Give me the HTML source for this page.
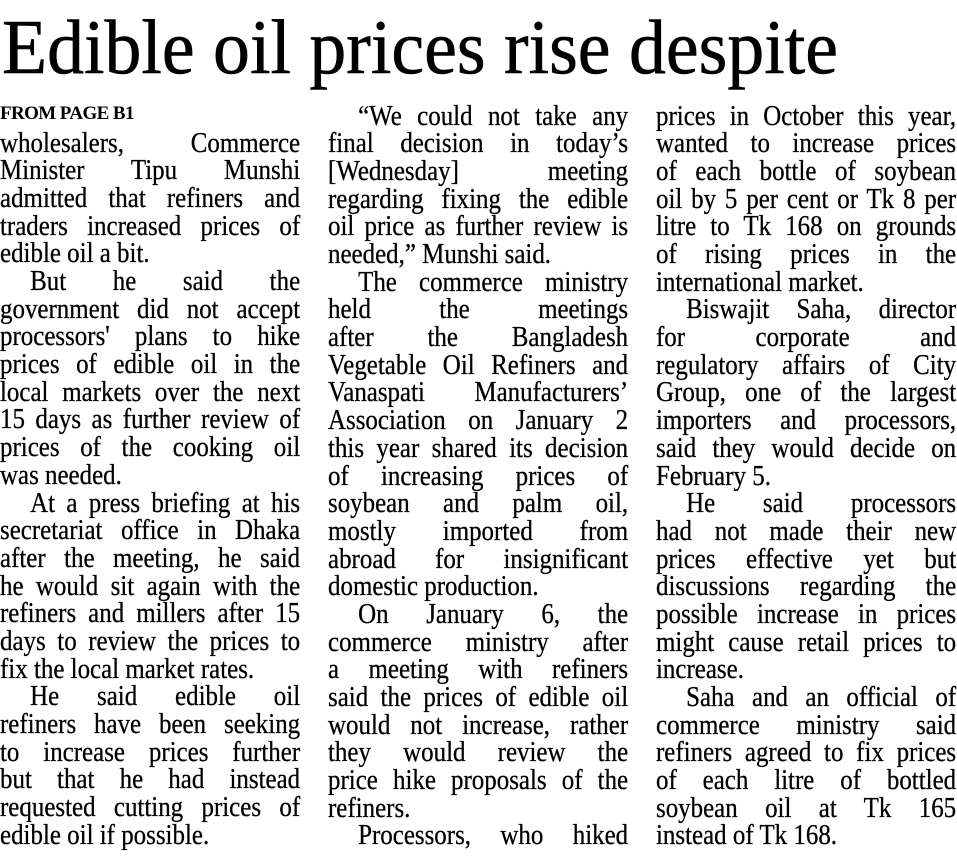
<!DOCTYPE html>
<html><head><meta charset="utf-8"><style>
html,body{margin:0;padding:0;background:#fff;}
body{width:957px;height:856px;position:relative;overflow:hidden;color:#000;font-family:"Liberation Serif",serif;}
.col{position:absolute;width:349px;transform:scaleX(0.86);transform-origin:0 0;font-size:29px;-webkit-text-stroke:0.3px #000;}
.col div{height:27.7px;line-height:27.7px;white-space:nowrap;text-align:justify;text-align-last:justify;}
.col div.e{text-align:left;text-align-last:left;}
.col div.i{padding-left:35px;}
#c1{left:0;top:129.6px;}
#c2{left:328px;top:102.6px;}
#c3{left:656px;top:102.6px;}
#fp{position:absolute;left:0;top:103px;font-size:19px;font-weight:bold;letter-spacing:-0.6px;}
</style></head><body>
<svg width="957" height="100" style="position:absolute;left:0;top:0">
<text x="2" y="73" font-family="Liberation Serif, serif" font-size="77" fill="#000" stroke="#000" stroke-width="0.6" textLength="836" lengthAdjust="spacingAndGlyphs">Edible oil prices rise despite</text>
</svg>
<div id="fp">FROM PAGE B1</div>
<div class="col" id="c1">
<div>wholesalers, Commerce</div>
<div>Minister Tipu Munshi</div>
<div>admitted that refiners and</div>
<div>traders increased prices of</div>
<div class="e">edible oil a bit.</div>
<div class="i">But he said the</div>
<div>government did not accept</div>
<div>processors' plans to hike</div>
<div>prices of edible oil in the</div>
<div>local markets over the next</div>
<div>15 days as further review of</div>
<div>prices of the cooking oil</div>
<div class="e">was needed.</div>
<div class="i">At a press briefing at his</div>
<div>secretariat office in Dhaka</div>
<div>after the meeting, he said</div>
<div>he would sit again with the</div>
<div>refiners and millers after 15</div>
<div>days to review the prices to</div>
<div class="e">fix the local market rates.</div>
<div class="i">He said edible oil</div>
<div>refiners have been seeking</div>
<div>to increase prices further</div>
<div>but that he had instead</div>
<div>requested cutting prices of</div>
<div class="e">edible oil if possible.</div>
</div>
<div class="col" id="c2">
<div class="i">“We could not take any</div>
<div>final decision in today’s</div>
<div>[Wednesday] meeting</div>
<div>regarding fixing the edible</div>
<div>oil price as further review is</div>
<div class="e">needed,” Munshi said.</div>
<div class="i">The commerce ministry</div>
<div>held the meetings</div>
<div>after the Bangladesh</div>
<div>Vegetable Oil Refiners and</div>
<div>Vanaspati Manufacturers’</div>
<div>Association on January 2</div>
<div>this year shared its decision</div>
<div>of increasing prices of</div>
<div>soybean and palm oil,</div>
<div>mostly imported from</div>
<div>abroad for insignificant</div>
<div class="e">domestic production.</div>
<div class="i">On January 6, the</div>
<div>commerce ministry after</div>
<div>a meeting with refiners</div>
<div>said the prices of edible oil</div>
<div>would not increase, rather</div>
<div>they would review the</div>
<div>price hike proposals of the</div>
<div class="e">refiners.</div>
<div class="i">Processors, who hiked</div>
</div>
<div class="col" id="c3">
<div>prices in October this year,</div>
<div>wanted to increase prices</div>
<div>of each bottle of soybean</div>
<div>oil by 5 per cent or Tk 8 per</div>
<div>litre to Tk 168 on grounds</div>
<div>of rising prices in the</div>
<div class="e">international market.</div>
<div class="i">Biswajit Saha, director</div>
<div>for corporate and</div>
<div>regulatory affairs of City</div>
<div>Group, one of the largest</div>
<div>importers and processors,</div>
<div>said they would decide on</div>
<div class="e">February 5.</div>
<div class="i">He said processors</div>
<div>had not made their new</div>
<div>prices effective yet but</div>
<div>discussions regarding the</div>
<div>possible increase in prices</div>
<div>might cause retail prices to</div>
<div class="e">increase.</div>
<div class="i">Saha and an official of</div>
<div>commerce ministry said</div>
<div>refiners agreed to fix prices</div>
<div>of each litre of bottled</div>
<div>soybean oil at Tk 165</div>
<div class="e">instead of Tk 168.</div>
</div>
</body></html>
